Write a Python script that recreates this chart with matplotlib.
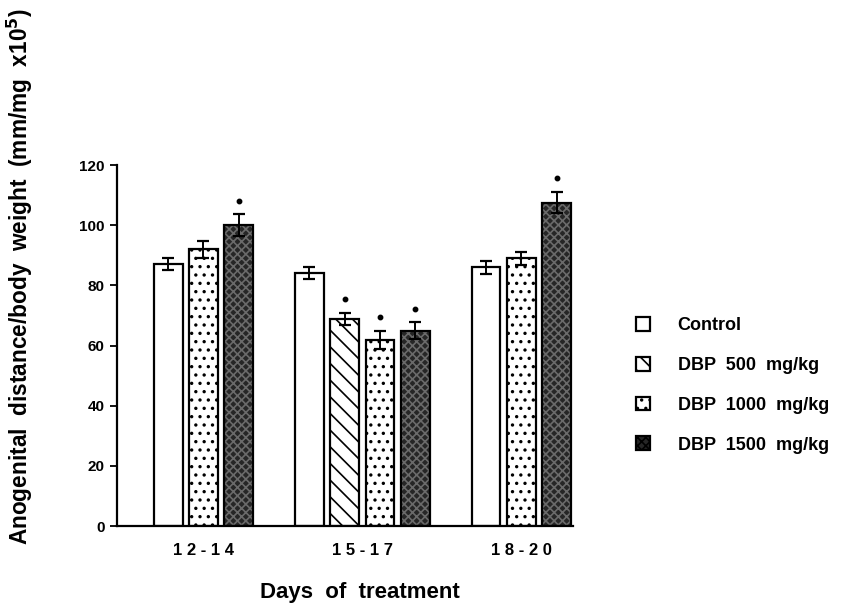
import matplotlib.pyplot as plt
from matplotlib.patches import Patch

plt.rcParams['font.family'] = ['Liberation Sans', 'DejaVu Sans']
plt.rcParams['font.weight'] = 'bold'
plt.rcParams['hatch.linewidth'] = 1.2

# data
groups = ['1 2 - 1 4', '1 5 - 1 7', '1 8 - 2 0']
series = ['Control', 'DBP  500  mg/kg', 'DBP  1000  mg/kg', 'DBP  1500  mg/kg']

# per group: which series are shown, mean, error, significant (*)
g1_series = [0, 2, 3]
g1_means = [87, 92, 100]
g1_err = [2, 2.8, 3.6]
g1_sig = [False, False, True]

g2_series = [0, 1, 2, 3]
g2_means = [84, 69, 62, 65]
g2_err = [2, 2, 3, 2.8]
g2_sig = [False, True, True, True]

g3_series = [0, 2, 3]
g3_means = [86, 89, 107.5]
g3_err = [2.2, 2.2, 3.6]
g3_sig = [False, False, True]

styles = [
    dict(facecolor='white', hatch=None, hatchcolor='black'),
    dict(facecolor='white', hatch='\\\\', hatchcolor='black'),
    dict(facecolor='white', hatch='..', hatchcolor='black'),
    dict(facecolor='#262626', hatch='xxxx', hatchcolor='#6a6a6a'),
]

fig = plt.figure(figsize=(8.43, 6.09), dpi=100)
ax = fig.add_axes([0.139, 0.136, 0.541, 0.593])

slot_starts = [0, 4, 9]
group_data = [
    (g1_series, g1_means, g1_err, g1_sig),
    (g2_series, g2_means, g2_err, g2_sig),
    (g3_series, g3_means, g3_err, g3_sig),
]
centers = []
for start, (ser, means, errs, sig) in zip(slot_starts, group_data):
    xs = [start + i for i in range(len(ser))]
    centers.append((xs[0] + xs[-1]) / 2)
    for x, s, m, e, star in zip(xs, ser, means, errs, sig):
        st = styles[s]
        # fill + hatch first, then a black outline on top
        ax.bar(x, m, width=0.82, facecolor=st['facecolor'], edgecolor=st['hatchcolor'],
               hatch=st['hatch'], linewidth=0, zorder=2)
        ax.bar(x, m, width=0.82, facecolor='none', edgecolor='black',
               linewidth=1.6, zorder=2.5)
        ax.errorbar(x, m, yerr=[[e], [e]], fmt='none', ecolor='black',
                    elinewidth=1.4, capsize=4, capthick=1.6, zorder=3)
        if star:
            ax.plot(x, m + e + 4.5, marker='o', markersize=3.2, color='black', zorder=3)

ax.set_xlim(-1.44, 11.47)
ax.set_ylim(0, 120)
ax.set_yticks([0, 20, 40, 60, 80, 100, 120])
ax.set_xticks(centers)
ax.set_xticklabels(groups, fontsize=12, fontweight='bold')
ax.tick_params(axis='x', length=0, pad=12)
ax.tick_params(axis='y', direction='out', length=5, width=1.3, labelsize=11, pad=4)
for lab in ax.get_yticklabels():
    lab.set_fontweight('bold')
ax.spines['top'].set_visible(False)
ax.spines['right'].set_visible(False)
ax.spines['left'].set_linewidth(1.6)
ax.spines['bottom'].set_linewidth(1.6)

ax.set_xlabel('Days  of  treatment', fontsize=16, fontweight='bold')
ax.xaxis.set_label_coords(0.532, -0.155)
ax.set_ylabel('Anogenital  distance/body  weight  (mm/mg  x10$^{\\mathbf{5}}$)',
              fontsize=16.3, fontweight='bold')
ax.yaxis.set_label_coords(-0.18, 0.69)

handles = [Patch(facecolor=st['facecolor'], edgecolor='black', hatch=st['hatch'],
                 linewidth=1.6) for st in styles]
ax.legend(handles, series, loc='center left', bbox_to_anchor=(1.102, 0.39),
          frameon=False, handlelength=0.8, handleheight=0.8,
          handletextpad=1.5, labelspacing=1.25, prop={'weight': 'bold', 'size': 13})

fig.savefig('out.png', dpi=100)
